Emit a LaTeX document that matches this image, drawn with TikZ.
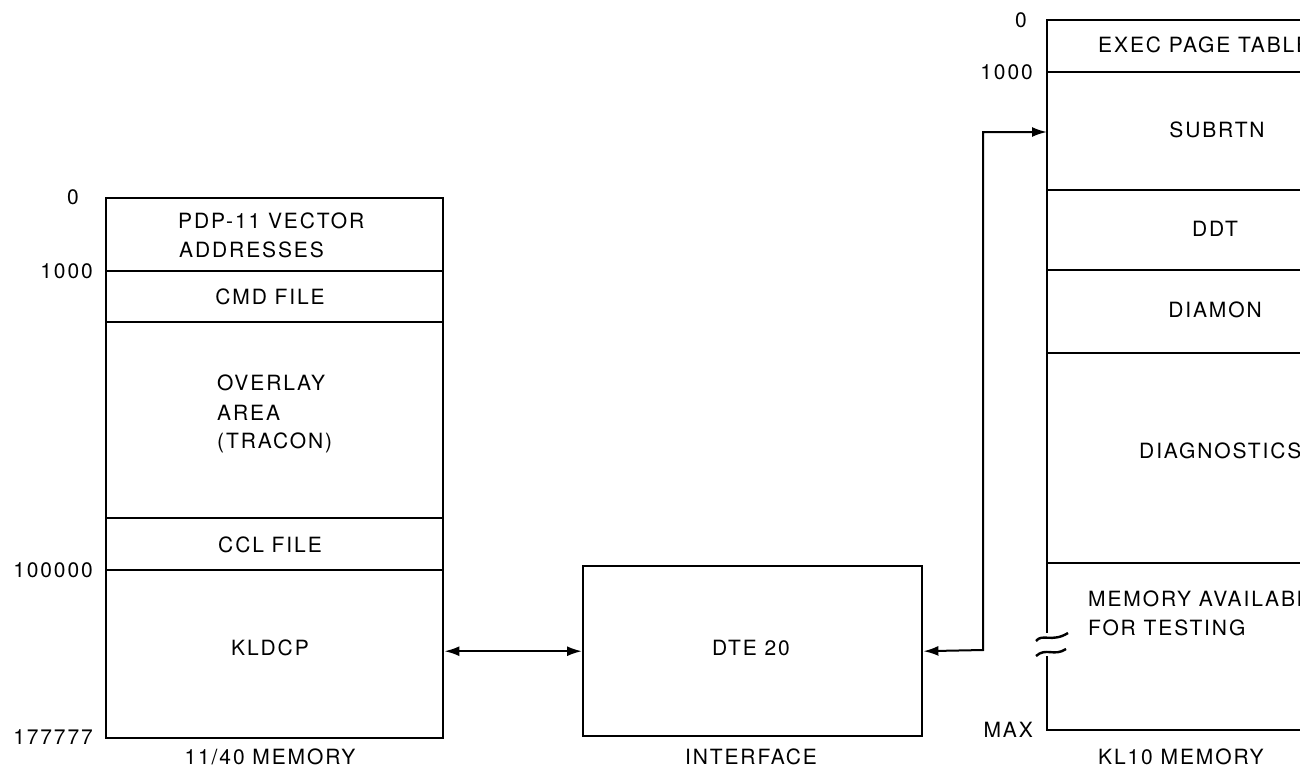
\documentclass[tikz,border=0pt]{standalone}
\usepackage{fontspec}
\setmainfont{TeX Gyre Heros}[LetterSpace=9.0]
\usetikzlibrary{arrows.meta}
\begin{document}
\begin{tikzpicture}[x=1pt,y=-1pt,
  line width=2.4pt,
  lbl/.style={font=\fontsize{21}{24}\selectfont, inner sep=0pt},
  box/.style={draw, line width=2.4pt, inner sep=0pt},
  arr/.style={{Latex[length=15pt,width=10pt]}-{Latex[length=15pt,width=10pt]}, line width=2pt}]
\useasboundingbox (0,0) rectangle (1300,769);
\clip (0,0) rectangle (1300,769);
% ---- left box: 11/40 memory
\node[box, minimum width=337pt, minimum height=540pt, anchor=north west] (mem) at (105,197) {};
\draw (105,271) -- (442,271);
\draw (105,322) -- (442,322);
\draw (105,518) -- (442,518);
\draw (105,570) -- (442,570);
\node[lbl, anchor=west] (pdp) at (177,221) {PDP-11 VECTOR};
\node[lbl, anchor=west] (addr) at (178,250) {ADDRESSES};
\node[lbl] (cmd) at (270,297) {CMD FILE};
\node[lbl, anchor=west] (ov1) at (216,383) {OVERLAY};
\node[lbl, anchor=west] (ov2) at (216,413) {AREA};
\node[lbl, anchor=west] (ov3) at (216,443) {(TRACON)};
\node[lbl] (ccl) at (270,545) {CCL FILE};
\node[lbl] (kldcp) at (270,648) {KLDCP};
\node[lbl, anchor=east] (a0) at (80,197) {0};
\node[lbl, anchor=east] (a1) at (94,271) {1000};
\node[lbl, anchor=east] (a2) at (94,570) {100000};
\node[lbl, anchor=east] (a3) at (94,737) {177777};
\node[lbl] (cap1) at (270,757) {11/40 MEMORY};
% ---- DTE 20
\node[box, minimum width=339pt, minimum height=170pt, anchor=north west] (dte) at (582,565) {};
\node[lbl] (dtet) at (751,648) {DTE 20};
\node[lbl] (cap2) at (751,757) {INTERFACE};
% ---- right box: KL10 memory
\coordinate (ktop) at (1047,20);
\coordinate (kbot) at (1047,730);
\coordinate (kin) at (1047,132);
\draw (1400,20) -- (ktop) -- (1047,633);
\draw (1047,656) -- (kbot) -- (1400,730);
\draw (1036,641) .. controls (1042,633) and (1052,643) .. (1068,633);
\draw (1036,656) .. controls (1046,647) and (1054,657) .. (1066,649);
\draw (1047,72) -- (1400,72);
\draw (1047,190) -- (1400,190);
\draw (1047,270) -- (1400,270);
\draw (1047,353) -- (1400,353);
\draw (1047,563) -- (1400,563);
\node[lbl, anchor=west] (exec) at (1097,45) {EXEC PAGE TABLE};
\node[lbl] (subrtn) at (1217,130) {SUBRTN};
\node[lbl] (ddt) at (1215,229) {DDT};
\node[lbl] (diamon) at (1215,310) {DIAMON};
\node[lbl, anchor=west] (diag) at (1138,451) {DIAGNOSTICS};
\node[lbl, anchor=west] (mav1) at (1087,599) {MEMORY AVAILABLE};
\node[lbl, anchor=west] (mav2) at (1087,628) {FOR TESTING};
\node[lbl, anchor=east] (b0) at (1028,20) {0};
\node[lbl, anchor=east] (b1) at (1034,72) {1000};
\node[lbl, anchor=east] (bmax) at (1034,730) {MAX};
\node[lbl, anchor=west] (cap3) at (1097,757) {KL10 MEMORY};
% ---- connectors
\draw[arr] (mem.east |- dte.west) -- (dte.west);
\draw[arr] (dte.east) -- (983,650) |- (kin);
\end{tikzpicture}
\end{document}
